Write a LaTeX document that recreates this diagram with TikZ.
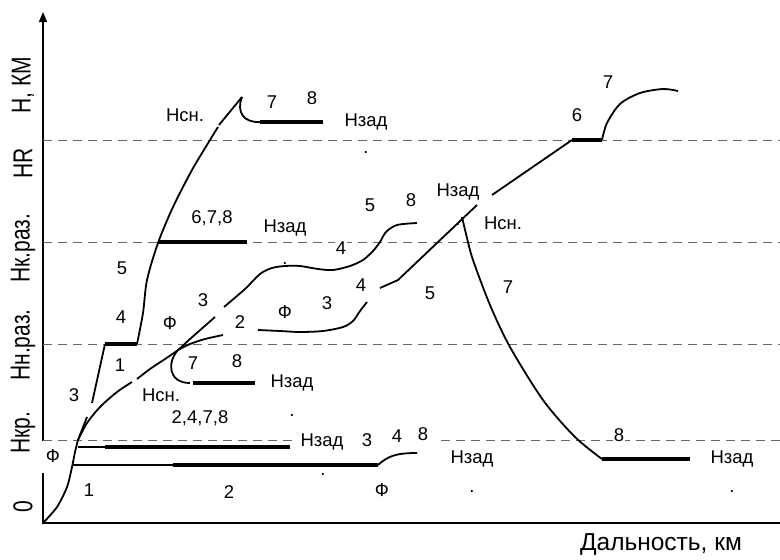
\documentclass[tikz,border=0pt]{standalone}
\usepackage{fontspec}
\setmainfont{Liberation Sans}
\usetikzlibrary{arrows.meta}

\begin{document}
\begin{tikzpicture}[x=1pt, y=-1pt, >={Triangle[length=10pt,width=8pt]},
    curve/.style={line width=1.8pt},
    thk/.style={line width=3.6pt},
    level/.style={black!60, line width=1pt, dash pattern=on 9pt off 6pt},
    lbl/.style={font=\fontsize{18.5}{19}\selectfont, inner sep=1pt},
    lblw/.style={lbl, fill=white},
    ylbl/.style={font=\fontsize{21}{22}\selectfont, rotate=90, yscale=1.3, inner sep=0pt}]
  \useasboundingbox (0,0) rectangle (780,560);

  % Оси
  \draw[->, line width=1.4pt] (43,441) -- (43,12);
  \draw[line width=1.4pt] (43,473) -- (43,523) -- (780,523);
  \node[font=\fontsize{24.5}{25}\selectfont] (xlab) at (661,545) {Дальность, км};

  \node[ylbl] (yH)  at (23,85)  {H, КМ};
  \node[ylbl] (yR)  at (23,163) {HR};
  \node[ylbl] (yKr) at (23,248) {Hк.раз.};
  \node[ylbl] (yNr) at (23,345) {Hн.раз.};
  \node[ylbl] (yKp) at (23,433) {Hкр.};
  \node[ylbl] (y0)  at (23,507) {0};

  % Уровни
  \draw[level] (43,140) -- (780,140);
  \draw[level] (43,242) -- (780,242);
  \draw[level] (43,344) -- (780,344);
  \draw[level] (43,440) -- (292,440);
  \draw[level] (441,440) -- (780,440);

  % Крутой набор
  \draw[curve] plot[smooth] coordinates {(43,523) (57,507) (67,487) (72,467) (75,452) (78,440)};
  \draw[curve] (78,440) -- (87,417);
  \draw[curve] (92,403) -- (105,344);
  \draw[thk] (105,344) -- (137,344);
  \draw[curve] plot[smooth] coordinates {(137,344) (143,313) (147,280) (158,243) (173,207) (192,170) (210,140) (218,127)};
  \draw[curve] (219,125) -- (242,97);
  \draw[curve] (242,97) .. controls (236,112) and (244,123) .. (260,122);
  \draw[thk] (260,122) -- (323,122);
  \draw[thk] (158,242) -- (247,242);

  % Пологий набор
  \draw[curve] plot[smooth] coordinates {(78,440) (87,423) (100,407) (117,392) (132,382)};
  \draw[curve] plot[smooth] coordinates {(137,379) (150,369) (165,359) (178,350) (190,339) (215,317)};
  \draw[curve] plot[smooth] coordinates {(224,307) (245,289) (260,274) (272,268) (285,266) (300,266)
    (318,269) (333,270) (350,266) (363,260) (373,251) (380,242) (386,232) (397,225) (417,223)};

  % Ветвь 2
  \draw[curve] plot[smooth] coordinates {(178,350) (190,344) (205,339) (223,335)};
  \draw[curve] plot[smooth] coordinates {(258,330) (280,331) (300,332) (323,331) (343,327) (353,321)
    (360,311) (367,302)};
  \draw[curve] (380,288) -- (398,280) -- (477,205);
  \draw[curve] (492,195) -- (572,140);
  \draw[thk] (572,140) -- (602,140);
  \draw[curve] plot[smooth] coordinates {(602,140) (607,123) (620,104) (640,93) (663,89) (678,91)};
  \draw[curve] plot[smooth] coordinates {(462,217) (467,238) (473,260) (490,305) (510,347) (543,400)
    (575,437) (602,459)};
  \draw[thk] (602,459) -- (690,459);

  % Снижение
  \draw[curve] (178,350) .. controls (167,362) and (168,383) .. (190,383);
  \draw[thk] (193,383) -- (255,383);

  % Нижние линии
  \draw[curve] (78,447) -- (105,447);
  \draw[thk] (105,447) -- (290,447);
  \draw[curve] (73,465) -- (173,465);
  \draw[thk] (173,465) -- (378,465);
  \draw[curve] (378,465) .. controls (388,456) and (396,453) .. (417,453);

  % Подписи
  \node[lbl] (sn1) at (185,115) {Hсн.};
  \node[lbl] (a7) at (272,102) {7};
  \node[lbl] (a8) at (312,98) {8};
  \node[lbl] (z1) at (366,122) {Hзад};
  \node[lbl, anchor=base] (p1) at (366,153) {.};
  \node[lbl] (b678) at (212,218) {6,7,8};
  \node[lbl] (z2) at (285,228) {Hзад};
  \node[lbl] (c5) at (122,268) {5};
  \node[lbl] (c4) at (121,317) {4};
  \node[lbl] (c1) at (120,365) {1};
  \node[lbl] (c3) at (74,395) {3};
  \node[lbl] (f1) at (170,323) {Ф};
  \node[lbl] (d3) at (203,300) {3};
  \node[lbl] (d2) at (240,322) {2};
  \node[lbl] (f2) at (285,312) {Ф};
  \node[lbl] (e3) at (327,303) {3};
  \node[lbl] (e4) at (361,285) {4};
  \node[lblw] (g4) at (341,248) {4};
  \node[lbl, anchor=base] (p2) at (285,264) {.};
  \node[lbl] (g5) at (370,205) {5};
  \node[lbl] (g8) at (411,200) {8};
  \node[lbl] (z3) at (458,192) {Hзад};
  \node[lbl] (sn2) at (503,223) {Hсн.};
  \node[lbl, anchor=base] (p3) at (458,225) {.};
  \node[lbl] (h6) at (577,115) {6};
  \node[lbl] (h7) at (608,82) {7};
  \node[lbl] (k5) at (430,293) {5};
  \node[lbl] (k7) at (508,287) {7};
  \node[lbl] (m7) at (193,363) {7};
  \node[lbl] (m8) at (237,361) {8};
  \node[lbl] (z4) at (292,383) {Hзад};
  \node[lbl] (sn3) at (161,395) {Hсн.};
  \node[lbl] (n2478) at (200,418) {2,4,7,8};
  \node[lbl, anchor=base] (p4) at (292,416) {.};
  \node[lbl] (z5) at (322,442) {Hзад};
  \node[lbl] (q3) at (367,440) {3};
  \node[lbl] (q4) at (397,436) {4};
  \node[lbl] (q8) at (423,434) {8};
  \node[lbl] (z6) at (472,459) {Hзад};
  \node[lbl, anchor=base] (p5) at (472,492) {.};
  \node[lbl] (f3) at (382,490) {Ф};
  \node[lblw] (r8) at (619,435) {8};
  \node[lbl] (z7) at (732,459) {Hзад};
  \node[lbl, anchor=base] (p6) at (732,492) {.};
  \node[lbl] (f0) at (53,456) {Ф};
  \node[lbl] (s1) at (89,490) {1};
  \node[lbl] (s2) at (229,492) {2};
  \node[lbl, anchor=base] (p7) at (323,475) {.};
\end{tikzpicture}
\end{document}
